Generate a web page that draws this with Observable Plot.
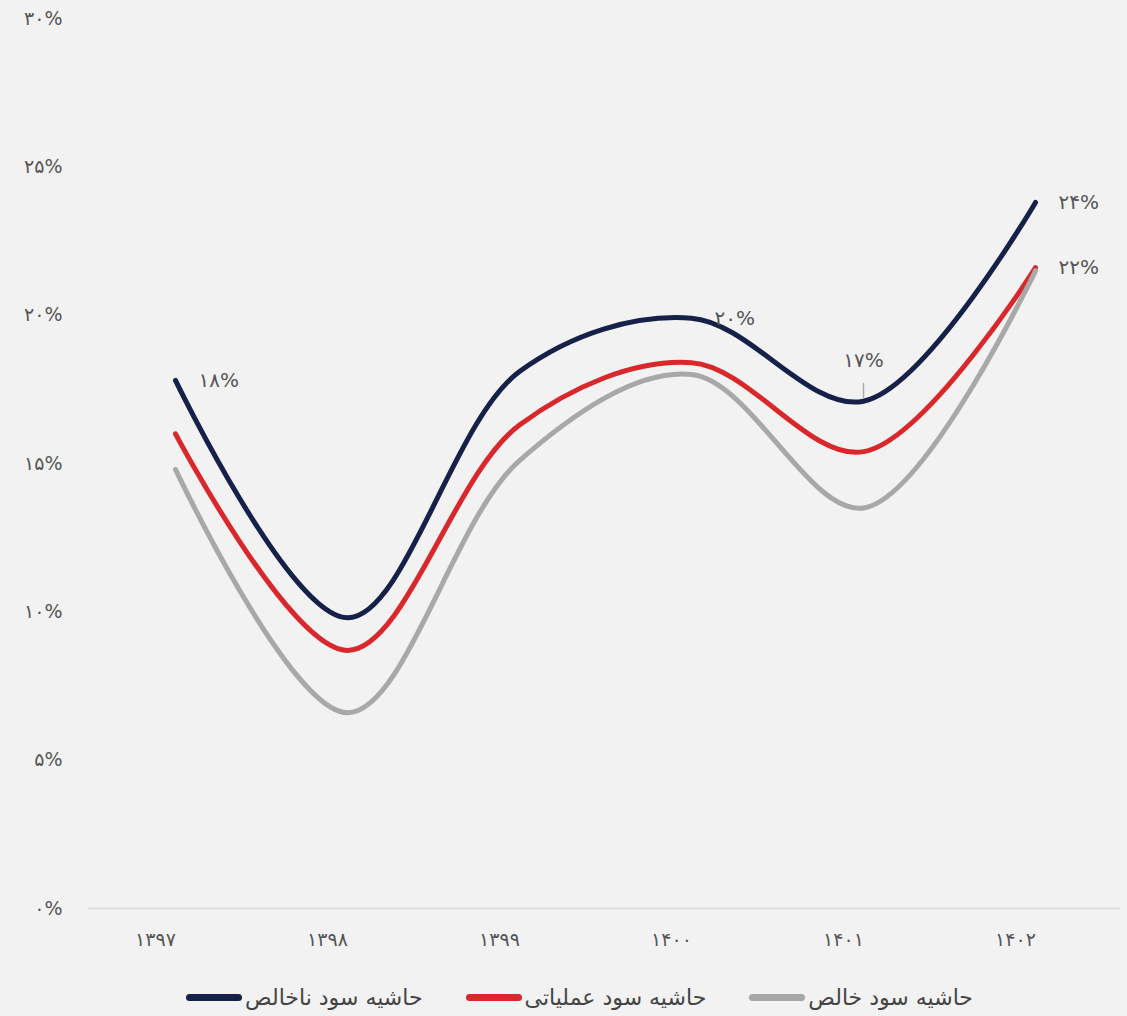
<!DOCTYPE html>
<html>
<head>
<meta charset="utf-8">
<script src="https://cdn.jsdelivr.net/npm/d3@7"></script>
<script src="https://cdn.jsdelivr.net/npm/@observablehq/plot@0.6"></script>
<style>
  html, body { margin: 0; padding: 0; background: #f2f2f2; }
  body { width: 1127px; height: 1016px; overflow: hidden; font-family: "DejaVu Sans", "Noto Sans", sans-serif; }
  #chart svg { display: block; background: transparent; }
  .legend { display: flex; justify-content: center; align-items: center; gap: 43px; margin-top: 20px; margin-left: 32px; }
  .item { display: flex; align-items: center; gap: 3px; font-size: 22px; color: #444; }
  .sw { width: 56px; height: 7px; border-radius: 4px; }
</style>
</head>
<body>
<div id="chart"></div>
<div class="legend" id="legend"></div>
<script>
const years = ["1397", "1398", "1399", "1400", "1401", "1402"];
const grossMargin = [17.8, 9.8, 18.1, 19.9, 17.1, 23.8];
const operatingMargin = [16.0, 8.7, 16.3, 18.4, 15.4, 21.6];
const netMargin = [14.8, 6.6, 15.1, 18.0, 13.5, 21.5];
const seriesNames = ["حاشیه سود ناخالص", "حاشیه سود عملیاتی", "حاشیه سود خالص"];
const seriesColors = ["#16214a", "#d9272b", "#a8a8a8"];
const yTicks = [0, 5, 10, 15, 20, 25, 30];
// labelled points: [series index, year]
const labelRight = [[0, "1397"], [0, "1400"], [0, "1402"], [1, "1402"]];
const labelAbove = [[0, "1401"]];

const fa = s => String(s).replace(/\d/g, c => "۰۱۲۳۴۵۶۷۸۹"[c]);
const pct = v => fa(Math.round(v)) + "%";

const allSeries = [grossMargin, operatingMargin, netMargin];
const data = [];
allSeries.forEach((vals, i) => vals.forEach((v, j) => data.push({year: years[j], value: v, series: seriesNames[i]})));
const find = ([si, y]) => data.find(d => d.series === seriesNames[si] && d.year === y);
const rightPts = labelRight.map(find);
const abovePts = labelAbove.map(find);

const chart = Plot.plot({
  width: 1127,
  height: 965,
  marginTop: 18,
  marginBottom: 57,
  marginLeft: 88,
  marginRight: 7,
  style: {background: "transparent", fontFamily: "DejaVu Sans, Noto Sans, sans-serif"},
  x: {type: "point", domain: years, range: [174, 1035], padding: 0},
  y: {domain: [0, 30]},
  color: {domain: seriesNames, range: seriesColors},
  marks: [
    Plot.ruleY([0], {stroke: "#d8d8d8", strokeWidth: 1.5}),
    Plot.axisY({ticks: yTicks, tickSize: 0, tickPadding: 26, tickFormat: d => fa(d) + "%", fontSize: 19, fill: "#555", label: null}),
    Plot.axisX({tickSize: 0, tickPadding: 24, tickFormat: d => fa(d), fontSize: 19, fill: "#555", dx: -20, label: null}),
    Plot.line(data, {x: "year", y: "value", z: "series", stroke: "series", strokeWidth: 5, curve: "catmull-rom", strokeLinecap: "round", strokeLinejoin: "round"}),
    Plot.text(rightPts, {x: "year", y: "value", text: d => pct(d.value), textAnchor: "start", dx: 23, fontSize: 20, fill: "#555"}),
    Plot.ruleX(abovePts, {x: "year", y1: d => d.value + 0.1, y2: d => d.value + 0.6, stroke: "#aaa", strokeWidth: 1.5}),
    Plot.text(abovePts, {x: "year", y: "value", text: d => pct(d.value), dy: -41, fontSize: 20, fill: "#555"})
  ]
});
document.getElementById("chart").appendChild(chart);

const legend = document.getElementById("legend");
seriesNames.forEach((name, i) => {
  const item = document.createElement("div");
  item.className = "item";
  const sw = document.createElement("span");
  sw.className = "sw";
  sw.style.background = seriesColors[i];
  const t = document.createElement("span");
  t.textContent = name;
  item.appendChild(sw);
  item.appendChild(t);
  legend.appendChild(item);
});
</script>
</body>
</html>
